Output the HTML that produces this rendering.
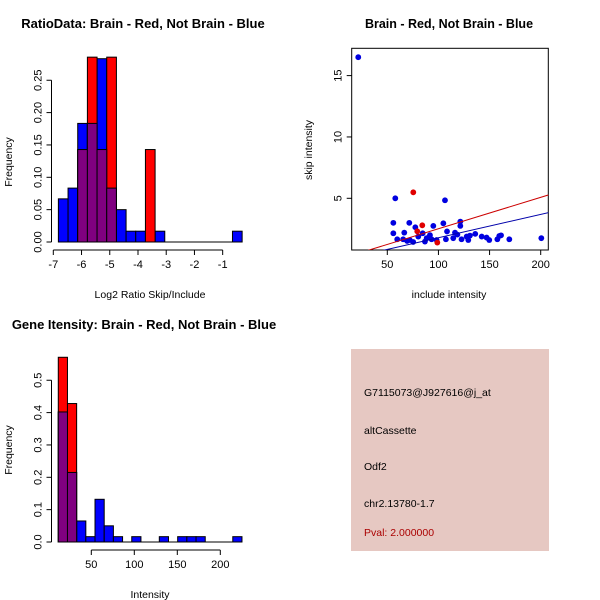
<!DOCTYPE html>
<html><head><meta charset="utf-8"><style>
body{margin:0;background:#fff;width:600px;height:600px;overflow:hidden}
svg{display:block;font-family:"Liberation Sans",sans-serif}
</style></head><body>
<svg id="s" width="600" height="600" viewBox="0 0 600 600">
<text x="143" y="28" text-anchor="middle" font-size="13" font-weight="bold">RatioData: Brain - Red, Not Brain - Blue</text>
<text x="449" y="28" text-anchor="middle" font-size="12.5" font-weight="bold">Brain - Red, Not Brain - Blue</text>
<text x="144" y="329" text-anchor="middle" font-size="13" font-weight="bold">Gene Itensity: Brain - Red, Not Brain - Blue</text>
<text x="150" y="298" text-anchor="middle" font-size="10.5">Log2 Ratio Skip/Include</text>
<text x="449" y="298" text-anchor="middle" font-size="10.5">include intensity</text>
<text x="150" y="598" text-anchor="middle" font-size="10.5">Intensity</text>
<text transform="translate(12,162) rotate(-90)" text-anchor="middle" font-size="10.5">Frequency</text>
<text transform="translate(312,150) rotate(-90)" text-anchor="middle" font-size="10.5">skip intensity</text>
<text transform="translate(12,450) rotate(-90)" text-anchor="middle" font-size="10.5">Frequency</text>
<rect x="351" y="349" width="198" height="202" fill="#e6c8c2"/>
<g font-size="10.5">
<text x="364" y="396">G7115073@J927616@j_at</text>
<text x="364" y="434">altCassette</text>
<text x="364" y="470">Odf2</text>
<text x="364" y="507">chr2.13780-1.7</text>
<text x="364" y="536" fill="#aa0000">Pval: 2.000000</text>
</g>
</svg>
<script>
// Ratio histogram
const ratioStart=-6.82, ratioBinW=0.3426;
const ratioBlue=[0.0667,0.0833,0.1833,0.1833,0.2833,0.0833,0.05,0.0167,0.0167,0,0.0167,0,0,0,0,0,0,0,0.0167];
const ratioRed=[0,0,0.1429,0.2857,0.1429,0.2857,0,0,0,0.1429,0,0,0,0,0,0,0,0,0];
const ratioXTicks=[-7,-6,-5,-4,-3,-2,-1];
const ratioYTicks=[0,0.05,0.10,0.15,0.20,0.25];
const ratioYLabels=["0.00","0.05","0.10","0.15","0.20","0.25"];
// Scatter
const blueX=[21.6,57.8,106.4,55.9,71.5,104.8,121.4,121.4,95,77.4,55.9,66.6,108.4,116.2,118.5,136,130.8,59.7,65.5,72,75.3,80.3,84.6,88.5,91.7,86.8,98.2,107.3,114.5,122.6,127.6,129.2,142.3,147.1,149.7,157.6,159.5,161.2,169.3,200.6,69.4,93.3];
const blueY=[16.5,5.0,4.84,3.0,3.0,2.96,3.1,2.75,2.75,2.64,2.15,2.2,2.3,2.2,2.04,2.1,1.96,1.66,1.66,1.6,1.44,1.88,2.15,1.75,2.0,1.47,1.6,1.66,1.75,1.66,1.88,1.6,1.88,1.8,1.6,1.66,1.93,1.98,1.66,1.75,1.52,1.66];
const redX=[75.4,84.2,79.3,98.9];
const redY=[5.49,2.8,2.31,1.39];
const redFit=[-0.039,0.02559];
const blueFit=[-0.117,0.01902];
const scXTicks=[50,100,150,200];
const scYTicks=[5,10,15];
// Intensity histogram
const intStart=11.6, intBinW=10.68;
const intBlue=[0.402,0.215,0.065,0.0165,0.132,0.05,0.0165,0,0.0165,0,0,0.0165,0,0.0165,0.0165,0.0165,0,0,0,0.0165];
const intRed=[0.571,0.428,0,0,0,0,0,0,0,0,0,0,0,0,0,0,0,0,0,0];
const intXTicks=[50,100,150,200];
const intYTicks=[0,0.1,0.2,0.3,0.4,0.5];
const intYLabels=["0.0","0.1","0.2","0.3","0.4","0.5"];

const NS="http://www.w3.org/2000/svg", svg=document.getElementById('s');
function el(t,a,p){const e=document.createElementNS(NS,t);for(const k in a)e.setAttribute(k,a[k]);(p||svg).appendChild(e);return e;}

function hist(start,w,blue,red,xs,ys,xTicks,yTicks,yLabels,tickX0,tickX1,yAxisX,xAxisY,prefix){
  const g=el('g',{});
  
  
  const bars=[[blue,'#0000ff','blue'],[red,'#ff0000','red']];
  bars.forEach(([arr,col,nm])=>arr.forEach((v,i)=>{if(v<=0)return;
    const r=el('rect',{x:xs(start+i*w),y:ys(v),width:xs(start+(i+1)*w)-xs(start+i*w),height:ys(0)-ys(v),fill:col,stroke:'#000','stroke-width':1},g);
    
    }));
  blue.forEach((v,i)=>{const m=Math.min(v,red[i]);if(m<=0)return;
    const r=el('rect',{x:xs(start+i*w),y:ys(m),width:xs(start+(i+1)*w)-xs(start+i*w),height:ys(0)-ys(m),fill:'#800080',stroke:'#000','stroke-width':1},g);
    
    });
  el('line',{x1:xs(start),x2:xs(start+blue.length*w),y1:ys(0),y2:ys(0),stroke:'#000'},g);
  const ax=el('g',{},g);
  
  
  el('line',{x1:xs(tickX0),x2:xs(tickX1),y1:xAxisY,y2:xAxisY,stroke:'#000'},ax);
  xTicks.forEach(t=>{el('line',{x1:xs(t),x2:xs(t),y1:xAxisY,y2:xAxisY+5,stroke:'#000'},ax);
    const tx=el('text',{x:xs(t),y:xAxisY+18,'text-anchor':'middle','font-size':11},ax);tx.textContent=t;});
  const ay=el('g',{},g);
  
  
  el('line',{x1:yAxisX,x2:yAxisX,y1:ys(yTicks[0]),y2:ys(yTicks[yTicks.length-1]),stroke:'#000'},ay);
  yTicks.forEach((t,i)=>{el('line',{x1:yAxisX-5,x2:yAxisX,y1:ys(t),y2:ys(t),stroke:'#000'},ay);
    const tx=el('text',{transform:`translate(${yAxisX-10},${ys(t)}) rotate(-90)`,'text-anchor':'middle','font-size':11},ay);tx.textContent=yLabels[i];});
}
hist(ratioStart,ratioBinW,ratioBlue,ratioRed,v=>53.3+(v+7)*28.23,v=>242-v*647,ratioXTicks,ratioYTicks,ratioYLabels,-7,-1,51.5,250,'ratio');
hist(intStart,intBinW,intBlue,intRed,v=>91.3+(v-50)*0.86,v=>542-v*323.5,intXTicks,intYTicks,intYLabels,50,200,51.5,550,'intensity');

(function(){
  const xs=v=>387.3+(v-50)*1.0227, ys=v=>198.3-(v-5)*12.27;
  const g=el('g',{});
  
  
  const x0=351.7,x1=548.3,y0=48.3,y1=250;
  el('rect',{x:x0,y:y0,width:x1-x0,height:y1-y0,fill:'none',stroke:'#000'},g);
  const cp=el('clipPath',{id:'cp'},g);el('rect',{x:x0,y:y0,width:x1-x0,height:y1-y0},cp);
  blueX.forEach((v,i)=>{const c=el('circle',{cx:xs(v),cy:ys(blueY[i]),r:2.9,fill:'#0000e0'},g);
    
    });
  redX.forEach((v,i)=>{const c=el('circle',{cx:xs(v),cy:ys(redY[i]),r:2.9,fill:'#e00000'},g);
    
    });
  const xa=15,xb=210;
  const rl=el('line',{x1:xs(xa),y1:ys(redFit[0]+redFit[1]*xa),x2:xs(xb),y2:ys(redFit[0]+redFit[1]*xb),stroke:'#cc0000','clip-path':'url(#cp)'},g);
  
  
  const bl=el('line',{x1:xs(xa),y1:ys(blueFit[0]+blueFit[1]*xa),x2:xs(xb),y2:ys(blueFit[0]+blueFit[1]*xb),stroke:'#0000aa','clip-path':'url(#cp)'},g);
  
  
  scXTicks.forEach(t=>{el('line',{x1:xs(t),x2:xs(t),y1:y1,y2:y1+5,stroke:'#000'},g);
    const tx=el('text',{x:xs(t),y:y1+18,'text-anchor':'middle','font-size':11},g);tx.textContent=t;});
  scYTicks.forEach(t=>{el('line',{x1:x0-5,x2:x0,y1:ys(t),y2:ys(t),stroke:'#000'},g);
    const tx=el('text',{transform:`translate(${x0-10},${ys(t)}) rotate(-90)`,'text-anchor':'middle','font-size':11},g);tx.textContent=t;});
})();
</script>
</body></html>
